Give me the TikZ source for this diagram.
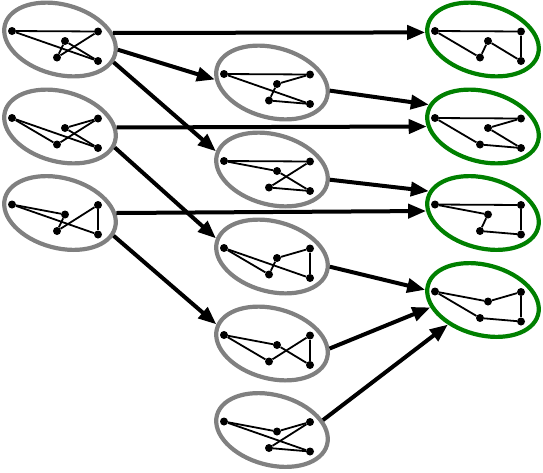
\documentclass[tikz,border=0pt]{standalone}
\usetikzlibrary{shapes.geometric,arrows.meta}
\newcommand\hamgraph[5]{%
  \node[#4] (#1) at (#2,#3) {};
  \foreach \v/\dx/\dy in {A/-48/-8.5, B/38/-8, C/5/1.5, D/-3/18, E/38/21.5}
    \node[vdot] (#1\v) at (#2+\dx,#3+\dy) {};
  \foreach \p/\q in {#5} \draw[gedge] (#1\p) -- (#1\q);
}
\begin{document}
\begin{tikzpicture}[x=1pt,y=-1pt,
  grp/.style={ellipse, draw=gray, line width=4.2pt, minimum width=114pt, minimum height=70pt, inner sep=0pt, rotate=-15},
  goal/.style={grp, draw=green!50!black},
  vdot/.style={circle, fill=black, inner sep=0pt, minimum size=8pt},
  gedge/.style={line width=1.8pt, black},
  arr/.style={line width=4pt, -{Triangle[length=18pt,width=14pt]}}]
\useasboundingbox (0,0) rectangle (543,472);
\hamgraph{L1}{60}{39.5}{grp}{A/B,B/D,D/C,C/E,E/A}
\hamgraph{L2}{60}{126.5}{grp}{A/D,D/B,B/C,C/E,E/A}
\hamgraph{L3}{60}{213}{grp}{A/C,C/D,D/B,B/E,E/A}
\hamgraph{M1}{272}{82.5}{grp}{A/B,B/C,C/D,D/E,E/A}
\hamgraph{M2}{272}{169.5}{grp}{A/B,B/D,D/E,E/C,C/A}
\hamgraph{M3}{272}{256.5}{grp}{A/D,D/C,C/B,B/E,E/A}
\hamgraph{M4}{272}{343.5}{grp}{A/C,C/E,E/B,B/D,D/A}
\hamgraph{M5}{272}{430}{grp}{A/C,C/B,B/D,D/E,E/A}
\hamgraph{R1}{483}{39.5}{goal}{A/B,B/E,E/C,C/D,D/A}
\hamgraph{R2}{483}{126.5}{goal}{A/B,B/C,C/E,E/D,D/A}
\hamgraph{R3}{483}{213}{goal}{A/B,B/E,E/D,D/C,C/A}
\hamgraph{R4}{483}{300}{goal}{A/C,C/B,B/E,E/D,D/A}
\draw[arr] (L1.22.3) -- (R1.188.5);
\draw[arr] (L1.5) -- (M1.192);
\draw[arr] (L1.-8.6) -- (M2.177.8);
\draw[arr] (L2.14.6) -- (R2.195);
\draw[arr] (L2.-6.7) -- (M3.177.8);
\draw[arr] (L3.15) -- (R3.193.7);
\draw[arr] (L3.-8.6) -- (M4.176.5);
\draw[arr] (M1.7.6) -- (R2.173.3);
\draw[arr] (M2.5.9) -- (R3.173.4);
\draw[arr] (M3.5.9) -- (R4.185.2);
\draw[arr] (M4.10.3) -- (R4.203.7);
\draw[arr] (M5.26.5) -- (R4.230.9);
\end{tikzpicture}
\end{document}
